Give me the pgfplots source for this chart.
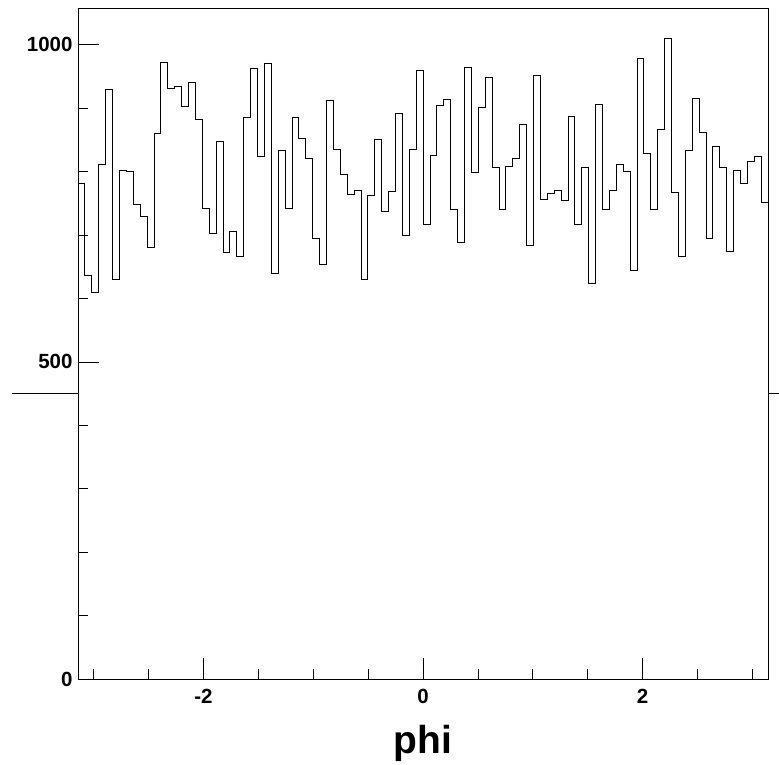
\documentclass[border=0pt]{standalone}
\usepackage{fontspec}
\setmainfont{Liberation Sans}
\usepackage{pgfplots}
\pgfplotsset{compat=1.18}
\usepackage{pgfplotstable}
\pgfplotstableread{
x y
-3.1416 781
-3.0788 637
-3.0159 610
-2.9531 811
-2.8903 929
-2.8274 630
-2.7646 802
-2.7018 800
-2.6389 748
-2.5761 730
-2.5133 680
-2.4504 860
-2.3876 973
-2.3248 931
-2.2619 934
-2.1991 903
-2.1363 940
-2.0735 883
-2.0106 742
-1.9478 702
-1.8850 848
-1.8221 672
-1.7593 706
-1.6965 667
-1.6336 885
-1.5708 963
-1.5080 824
-1.4451 970
-1.3823 639
-1.3195 833
-1.2566 742
-1.1938 885
-1.1310 853
-1.0681 821
-1.0053 695
-0.9425 654
-0.8796 913
-0.8168 835
-0.7540 796
-0.6912 764
-0.6283 771
-0.5655 630
-0.5027 762
-0.4398 851
-0.3770 738
-0.3142 769
-0.2513 892
-0.1885 699
-0.1257 835
-0.0628 959
0.0000 717
0.0628 826
0.1257 905
0.1885 914
0.2513 740
0.3142 689
0.3770 964
0.4398 798
0.5027 901
0.5655 948
0.6283 807
0.6912 740
0.7540 809
0.8168 821
0.8796 875
0.9425 683
1.0053 951
1.0681 756
1.1310 765
1.1938 770
1.2566 754
1.3195 887
1.3823 717
1.4451 807
1.5080 623
1.5708 906
1.6336 740
1.6965 770
1.7593 811
1.8221 800
1.8850 645
1.9478 979
2.0106 828
2.0735 741
2.1363 866
2.1991 1010
2.2619 768
2.3248 667
2.3876 833
2.4504 916
2.5133 862
2.5761 695
2.6389 840
2.7018 807
2.7646 674
2.8274 802
2.8903 781
2.9531 816
3.0159 824
3.0788 752
3.1416 752
}\histdata

\begin{document}
\begin{tikzpicture}
\path[use as bounding box] (-78pt,-85pt) rectangle (701pt,679pt);
\begin{axis}[
  at={(0pt,0pt)}, anchor=south west,
  scale only axis, width=690pt, height=671pt,
  xmin=-3.14159, xmax=3.14159, ymin=0, ymax=1058,
  xtick={-2,0,2},
  minor xtick={-3,-2.5,-1.5,-1,-0.5,0.5,1,1.5,2.5,3},
  ytick={0,500,1000},
  minor ytick={100,200,300,400,600,700,800,900},
  xtick pos=bottom, ytick pos=left, tick align=inside,
  major tick length=21pt, minor tick length=10pt,
  tick style={black, line width=0.7pt},
  axis line style={black, line width=0.8pt},
  ticklabel style={font=\fontsize{20.5}{24}\selectfont\bfseries},
  /pgf/number format/assume math mode=true,
  /pgf/number format/set thousands separator={},
  xticklabel style={yshift=-7pt},
  yticklabel style={xshift=-2pt},
  xlabel={phi},
  xlabel style={font=\fontsize{39}{44}\selectfont\bfseries, at={(rel axis cs:0.5,0)}, anchor=base, yshift=-74pt},
  clip=false,
]
\addplot[const plot, black, line width=0.8pt] table {\histdata};
\draw[black, line width=0.8pt] (axis cs:-3.743,450) -- (axis cs:-3.14159,450);
\draw[black, line width=0.8pt] (axis cs:3.14159,450) -- (axis cs:3.40,450);
\end{axis}
\end{tikzpicture}
\end{document}
